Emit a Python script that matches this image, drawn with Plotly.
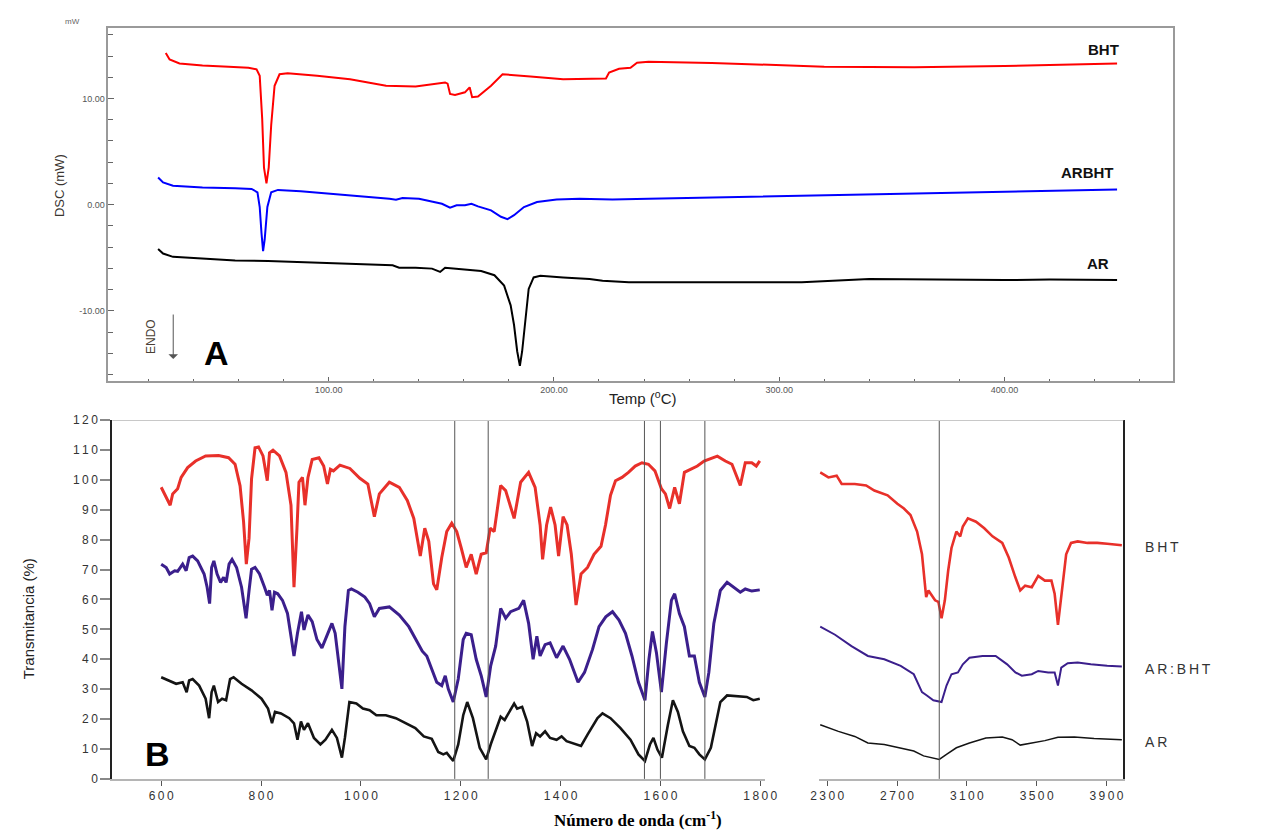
import plotly.graph_objects as go

W, H = 1268, 839

# ---------------- DSC data (A) ----------------
dsc_T_bht = [27.7, 29.4, 33.8, 44, 55.6, 64.4, 68, 69.4, 70.5, 71.3, 72.4, 73.4, 74.5, 76, 78.2, 81.8, 94.9,
             109.5, 125.5, 138.6, 151.7, 152.8, 153.9, 156.1, 160.5, 162.6, 163.7, 166.3, 172.1, 177.2, 189.6,
             204.1, 223.1, 224.5, 228.9, 234, 236.9, 242, 270, 300, 320, 360, 400, 430, 450]
dsc_bht = [14.29, 13.67, 13.3, 13.1, 12.99, 12.9, 12.74, 12.13, 8.1, 3.49, 2.0, 3.49, 7.5, 11.2, 12.28, 12.37, 12.13,
           11.82, 11.2, 11.14, 11.51, 11.4, 10.43, 10.34, 10.58, 11.05, 10.12, 10.18, 11.2, 12.28, 12.07,
           11.82, 11.88, 12.44, 12.8, 12.9, 13.36, 13.45, 13.35, 13.15, 13.0, 12.95, 13.05, 13.2, 13.3]

dsc_T_arbht = [24.3, 26.5, 30.9, 44, 58.5, 65.8, 68.4, 69.4, 70.2, 70.9, 71.6, 72.8, 74.5, 77.5, 87.6, 102.2,
               116.8, 127, 129.9, 132.8, 140.1, 145.9, 150.3, 153.9, 156.8, 160.5, 163.4, 166.3, 172.1, 176.5,
               179.4, 182.3, 186.7, 192.5, 201.2, 211.4, 226, 242, 300, 350, 395, 450]
dsc_arbht = [2.56, 2.1, 1.79, 1.63, 1.54, 1.48, 1.17, -0.22, -2.69, -4.38, -3.3, -0.22, 1.17, 1.39, 1.26, 1.02,
             0.77, 0.55, 0.46, 0.62, 0.55, 0.25, 0.09, -0.28, -0.06, -0.06, 0.09, -0.16, -0.53, -1.14,
             -1.36, -0.99, -0.22, 0.25, 0.49, 0.55, 0.49, 0.55, 0.8, 1.0, 1.17, 1.42]

dsc_T_ar = [24.3, 26.5, 30.9, 44, 58.5, 73.1, 87.6, 102.2, 116.8, 128.4, 131.3, 138.6, 145.9, 148.1, 149.5, 151.7,
            160.5, 167.7, 173.6, 177.9, 180.8, 182.3, 183.7, 184.9, 185.9, 187.4, 188.8, 191, 194, 204.1, 215.8,
            221.6, 233.3, 242, 260, 290, 310, 340, 370, 400, 420, 450]
dsc_ar = [-4.17, -4.6, -4.91, -5.09, -5.25, -5.31, -5.4, -5.52, -5.62, -5.71, -5.93, -5.93, -6.02, -6.24, -6.33,
          -5.93, -6.08, -6.24, -6.64, -7.62, -9.48, -11.33, -13.8, -15.18, -13.8, -10.71, -7.93, -6.85, -6.7,
          -6.85, -7, -7.16, -7.31, -7.31, -7.3, -7.35, -7.3, -7.0, -7.05, -7.1, -7.05, -7.1]

dsc_xticks = [100, 200, 300, 400]
dsc_xticktext = ["100.00", "200.00", "300.00", "400.00"]
dsc_yticks = [-10, 0, 10]
dsc_yticktext = ["-10.00", "0.00", "10.00"]

# ---------------- FTIR data (B) ----------------
ir_w_bht = [600, 618, 623, 633, 640, 653, 669, 689, 715, 735, 748, 758, 765, 770.5, 776, 781, 788, 795, 804, 812.5,
            817, 824, 837, 850, 860, 866, 872, 876, 883, 888, 894, 902.5, 916, 925.5, 933, 939, 945, 958, 978, 998,
            1014, 1027, 1037, 1057, 1077, 1093, 1106, 1119, 1128, 1136, 1145.5, 1152, 1162, 1172, 1182, 1192,
            1201, 1211, 1221, 1231, 1241, 1251, 1259, 1267, 1280, 1290, 1307, 1320, 1336, 1349, 1359, 1364,
            1372, 1380, 1389, 1396, 1405, 1413, 1421.5, 1431, 1441, 1454, 1467, 1481, 1490, 1500, 1510, 1523,
            1536, 1549.5, 1563, 1576, 1589, 1602, 1610, 1618.5, 1628.5, 1638, 1648, 1661, 1674, 1687.5, 1701,
            1714, 1730, 1743.3, 1760, 1770, 1783, 1792, 1799]
ir_bht = [97.5, 91.5, 95.3, 97, 100.8, 104.1, 106.3, 108, 108.1, 107.4, 105.2, 98, 86, 71.8, 80.5, 100.3, 110.7,
          111, 108, 99.7, 109, 109.9, 108, 102.5, 91.5, 64.1, 83.8, 99.2, 100.8, 91.5, 100.8, 106.8, 107.4, 104.6,
          98.6, 103.5, 103, 104.9, 103.8, 100.5, 98.6, 87.7, 95.3, 99.2, 97.5, 93.1, 87.1, 74.5, 83.8, 79.4, 65.2,
          63.2, 74, 82.7, 85.5, 82.7, 77.2, 70.7, 75.1, 68.5, 75.1, 75.6, 83.8, 82.7, 98.1, 96.4, 87.1, 99.2,
          102.5, 97.5, 84.9, 73.4, 84.9, 90.9, 84.9, 74.5, 87.7, 84.9, 75.1, 58.1, 68.5, 70.7, 75.1, 77.8, 84.9,
          94.8, 99.7, 100.8, 102.5, 104.6, 105.7, 105.2, 103, 97, 95.3, 90.4, 97.5, 92, 102.5, 103.5, 104.6,
          106.3, 107, 107.9, 106.3, 105.2, 98.1, 105.7, 105.7, 104.6, 106.3]

ir_w_arbht = [600, 610, 617, 627, 633, 643, 650, 656, 663, 673, 686, 692, 697, 701, 705.5, 712, 719, 725, 730, 736,
              742, 751, 761, 766.5, 770, 776, 781, 788, 797, 807, 812.5, 817, 822, 827, 833.5, 843, 853, 861,
              866, 873, 881, 886, 894, 902.5, 912, 922, 932, 942, 948.5, 955, 962, 968, 975, 981, 994, 1008,
              1017.5, 1027, 1037, 1057, 1077, 1096, 1113, 1123, 1132, 1145.5, 1152, 1162, 1169, 1175, 1185,
              1195, 1205, 1211, 1221, 1231, 1241, 1251, 1260, 1270, 1280, 1290, 1300, 1316.4, 1326, 1336, 1345,
              1352.5, 1359, 1369, 1379, 1392, 1405, 1418, 1435, 1448, 1464, 1477, 1490.5, 1504, 1517, 1530,
              1543, 1556, 1569, 1577, 1584, 1592, 1602, 1612, 1622, 1628.5, 1638, 1648, 1658, 1668, 1678, 1689,
              1697, 1707, 1720, 1733.5, 1747, 1760, 1770, 1783, 1799]
ir_arbht = [71.8, 70.7, 68.5, 69.6, 69.4, 71.8, 69.6, 74, 74.5, 72.9, 68.5, 64.1, 58.6, 70.7, 72.9, 68.5, 65.7,
            67.4, 65.7, 71.8, 73.4, 70.7, 64.1, 57.5, 53.7, 63, 70.1, 70.7, 68.5, 64.1, 61.4, 63, 56.4, 62.4,
            61.9, 59.7, 55.3, 46.6, 41.1, 48.7, 55.9, 49.8, 54.8, 52.6, 46.6, 43.8, 47.7, 52, 48.7, 40, 30.1,
            50.9, 63, 63.5, 62.4, 60.8, 58.6, 54.2, 57, 57.5, 54.8, 50.9, 45.5, 42.7, 41.1, 35, 32.3, 31.2, 34.5,
            30.1, 25.7, 33.4, 46.6, 48.7, 48.2, 40, 34.5, 27.4, 37.8, 44.4, 57, 53.7, 55.9, 57, 59.7, 52, 40,
            47.7, 41.1, 44.9, 45.5, 40.5, 44.4, 40, 32.3, 35.6, 43.3, 50.9, 54.2, 55.9, 53.1, 48.7, 41.1, 32.3,
            26.3, 40, 49.3, 42.2, 29, 45.5, 59.7, 61.9, 55.3, 50.9, 41.1, 41.1, 32.3, 27.4, 35.6, 52, 63, 65.7,
            64.1, 62.4, 63.5, 62.8, 63.2]

ir_w_ar = [600, 617, 630, 643, 651, 656, 663, 676, 689, 696, 701, 705.5, 714, 722, 730, 738, 745, 761, 781, 801,
           814, 822, 828, 840, 856.5, 866, 873, 880, 886, 894, 906, 919, 929, 942, 952, 962, 968, 977, 991, 1004,
           1017.5, 1031, 1050, 1070, 1090, 1109, 1126, 1142, 1155, 1165, 1172, 1185, 1195, 1205, 1213, 1224.4,
           1238, 1251, 1260, 1270, 1280, 1288, 1297, 1307, 1313, 1323, 1333, 1343, 1351, 1359, 1369, 1379, 1392,
           1402, 1412, 1425, 1441, 1454, 1464, 1474, 1484, 1500, 1520, 1540, 1556, 1569, 1579, 1586, 1594, 1603,
           1615, 1625, 1635, 1645, 1658, 1668, 1678, 1689, 1701, 1711, 1720, 1733.5, 1753, 1773, 1786, 1799]
ir_ar = [34, 32.9, 31.8, 32.3, 29, 32.9, 33.4, 31.2, 26.8, 20.3, 29, 31.2, 25.7, 26.8, 26.3, 33.4, 34, 31.8, 29.6,
         26.8, 23.5, 18.6, 22.4, 21.9, 20.3, 18.6, 13.1, 19.2, 16.4, 18.6, 13.7, 11.5, 13.1, 16.4, 13.7, 7.1, 13.7,
         25.7, 25.2, 23.5, 23, 21.3, 21.3, 20.3, 18.6, 17, 14.2, 13.4, 9, 8.2, 8.7, 6, 11.5, 21.3, 25.7, 20.3,
         10.4, 6.5, 11.5, 15.9, 20.8, 19.7, 22.4, 25.2, 23.5, 24.1, 19.2, 11, 15.3, 14.2, 15.9, 13.7, 13.1, 14.2,
         12.6, 12, 11, 14.8, 17.5, 20.3, 21.9, 20.3, 17, 13.1, 8.2, 6, 11.5, 13.7, 9.8, 7.1, 18.1, 26.3, 22.4,
         15.9, 11, 10.4, 8.2, 6.5, 10.4, 18.1, 25.7, 27.9, 27.7, 27.4, 26.3, 26.8]

ir_w_bht_hi = [2260, 2307, 2354, 2383, 2458, 2523, 2570, 2646, 2702, 2739.5, 2777, 2815, 2843, 2856, 2867, 2880,
               2899, 2918, 2937, 2955, 2974, 2993, 3012, 3040, 3062, 3077, 3106, 3152.6, 3200, 3247, 3303, 3340,
               3378, 3406, 3434, 3472, 3509, 3547, 3584.5, 3603, 3622, 3641, 3669, 3697, 3735, 3791, 3847, 3904,
               3988]
ir_bht_hi = [102.5, 100.8, 101.4, 98.6, 98.6, 98.1, 96.4, 94.8, 92, 90.4, 88.2, 82.7, 75.1, 66.3, 60.8, 63, 61.4,
             59.7, 59.2, 53.7, 59.7, 69.6, 77.2, 82.7, 81.1, 84.4, 87.1, 86, 83.8, 81.1, 78.9, 74, 67.4, 63, 64.6,
             64.1, 67.9, 66.3, 66.3, 61.9, 51.5, 61.9, 75.1, 78.9, 79.4, 78.9, 78.9, 78.6, 78.1]

ir_w_arbht_hi = [2260, 2345, 2439, 2533, 2627, 2721, 2796, 2843, 2871, 2908, 2955, 2983.5, 3012, 3049, 3077,
                 3115, 3190, 3265, 3331, 3378, 3415, 3472, 3509, 3566, 3603, 3622, 3641, 3678, 3735, 3810, 3904,
                 3988]
ir_arbht_hi = [50.9, 48.2, 44.4, 41.1, 40, 37.8, 35, 29, 27.9, 26.3, 25.7, 31.2, 35, 35.6, 38.3, 40.5, 41.1, 41.1,
               38.3, 35.6, 34.5, 35, 36.1, 35.6, 35.6, 31.2, 37.2, 38.7, 38.9, 38.3, 37.8, 37.6]

ir_w_ar_hi = [2260, 2364, 2458, 2533, 2627, 2721, 2796, 2852, 2899, 2942, 2983.5, 3040, 3115, 3209, 3303, 3359,
              3406, 3472, 3547, 3622, 3716, 3829, 3988]
ir_ar_hi = [18.1, 15.9, 14.2, 12, 11.5, 10.4, 9.3, 7.7, 7.1, 6.5, 8.2, 10.4, 12, 13.7, 14, 13.1, 11.3, 12, 12.8,
            13.9, 14, 13.5, 13.1]

ir_ref_lines_left = [1188, 1255, 1568, 1600, 1689]
ir_ref_lines_right = [2942]
ir_yticks = list(range(0, 121, 10))
ir_xticks_left = [600, 800, 1000, 1200, 1400, 1600, 1800]
ir_xticks_right = [2300, 2700, 3100, 3500, 3900]


def spaced(s):
    return "\u2009".join(list(s))


def px(x):
    return x / W


def py(y):
    return 1 - y / H


RED_DSC, BLUE_DSC = "#ff0000", "#0000ff"
RED_IR, PURPLE_IR, BLACK_IR = "#e8302a", "#3b1f8c", "#141414"

fig = go.Figure()

# DSC traces
fig.add_trace(go.Scatter(x=dsc_T_bht, y=dsc_bht, mode="lines", line=dict(color=RED_DSC, width=2),
                         xaxis="x", yaxis="y", showlegend=False))
fig.add_trace(go.Scatter(x=dsc_T_arbht, y=dsc_arbht, mode="lines", line=dict(color=BLUE_DSC, width=2),
                         xaxis="x", yaxis="y", showlegend=False))
fig.add_trace(go.Scatter(x=dsc_T_ar, y=dsc_ar, mode="lines", line=dict(color="#000000", width=2),
                         xaxis="x", yaxis="y", showlegend=False))

# FTIR left
fig.add_trace(go.Scatter(x=ir_w_bht, y=ir_bht, mode="lines", line=dict(color=RED_IR, width=3),
                         xaxis="x2", yaxis="y2", showlegend=False))
fig.add_trace(go.Scatter(x=ir_w_arbht, y=ir_arbht, mode="lines", line=dict(color=PURPLE_IR, width=3),
                         xaxis="x2", yaxis="y2", showlegend=False))
fig.add_trace(go.Scatter(x=ir_w_ar, y=ir_ar, mode="lines", line=dict(color=BLACK_IR, width=2.6),
                         xaxis="x2", yaxis="y2", showlegend=False))
# FTIR right
fig.add_trace(go.Scatter(x=ir_w_bht_hi, y=ir_bht_hi, mode="lines", line=dict(color=RED_IR, width=2.6),
                         xaxis="x3", yaxis="y3", showlegend=False))
fig.add_trace(go.Scatter(x=ir_w_arbht_hi, y=ir_arbht_hi, mode="lines", line=dict(color=PURPLE_IR, width=2),
                         xaxis="x3", yaxis="y3", showlegend=False))
fig.add_trace(go.Scatter(x=ir_w_ar_hi, y=ir_ar_hi, mode="lines", line=dict(color=BLACK_IR, width=1.5),
                         xaxis="x3", yaxis="y3", showlegend=False))

tickfont_dsc = dict(family="Liberation Sans, Arial, sans-serif", size=9, color="#555")
tickfont_ir = dict(family="Liberation Sans, Arial, sans-serif", size=12, color="#333")

fig.update_layout(
    width=W, height=H, autosize=False,
    margin=dict(l=0, r=0, t=0, b=0),
    paper_bgcolor="white", plot_bgcolor="white",
    xaxis=dict(domain=[px(101), px(1184)], range=[2.2, 475], anchor="y",
               showgrid=False, zeroline=False, showline=True, mirror=True, linecolor="#9a9a9a", linewidth=1.5,
               tickvals=dsc_xticks, ticktext=dsc_xticktext, ticks="inside", ticklen=4, tickcolor="#666",
               minor=dict(dtick=20, tick0=0, ticks="inside", ticklen=2, tickcolor="#666", showgrid=False),
               tickfont=tickfont_dsc),
    yaxis=dict(domain=[py(380), py(21)], range=[-16.57, 16.67], anchor="x",
               showgrid=False, zeroline=False, showline=True, mirror=True, linecolor="#9a9a9a", linewidth=1.5,
               tickvals=dsc_yticks, ticktext=dsc_yticktext, ticks="inside", ticklen=6, tickcolor="#666",
               minor=dict(dtick=2, tick0=0, ticks="inside", ticklen=5, tickcolor="#666", showgrid=False),
               tickfont=tickfont_dsc),
    xaxis2=dict(domain=[px(105), px(769)], range=[502, 1810], anchor="y2",
                showgrid=False, zeroline=False, showline=True, linecolor="#b5b5b5", linewidth=2,
                tickvals=ir_xticks_left, ticktext=[spaced(str(v)) for v in ir_xticks_left],
                ticks="outside", ticklen=5, tickcolor="#555", tickfont=tickfont_ir),
    yaxis2=dict(domain=[py(785), py(420)], range=[0, 120], anchor="x2",
                showgrid=False, zeroline=False, showline=True, linecolor="#222", linewidth=2,
                tickvals=ir_yticks, ticktext=[spaced(str(v)) for v in ir_yticks],
                ticks="outside", ticklen=10, tickcolor="#888", tickwidth=2, tickfont=tickfont_ir),
    xaxis3=dict(domain=[px(824), px(1133)], range=[2255, 3996], anchor="y3",
                showgrid=False, zeroline=False, showline=True, linecolor="#b5b5b5", linewidth=2,
                tickvals=ir_xticks_right, ticktext=[spaced(str(v)) for v in ir_xticks_right],
                ticks="outside", ticklen=5, tickcolor="#555", tickfont=tickfont_ir),
    yaxis3=dict(domain=[py(785), py(420)], range=[0, 120], anchor="x3", side="right",
                showgrid=False, zeroline=False, showline=True, linecolor="#222", linewidth=2,
                showticklabels=False, ticks=""),
)

shapes = []
for w in ir_ref_lines_left:
    shapes.append(dict(type="line", xref="x2", yref="y2", x0=w, x1=w, y0=0, y1=120,
                       line=dict(color="#555", width=1)))
for w in ir_ref_lines_right:
    shapes.append(dict(type="line", xref="x3", yref="y3", x0=w, x1=w, y0=0, y1=120,
                       line=dict(color="#555", width=1)))
# top frame line of panel B
shapes.append(dict(type="line", xref="paper", yref="y2", x0=px(105), x1=px(1133), y0=120, y1=120,
                   line=dict(color="#c8c8c8", width=2)))
fig.update_layout(shapes=shapes)

ann = []


def note(x, y, text, font, xanchor="center", **kw):
    ann.append(dict(x=px(x), y=py(y), xref="paper", yref="paper", text=text, showarrow=False,
                    xanchor=xanchor, yanchor="middle", font=font, **kw))


lab = dict(family="Liberation Sans, Arial, sans-serif", size=15, color="#111")
# DSC labels
note(1113, 43, "<b>BHT</b>", lab)
note(1097, 168, "<b>ARBHT</b>", lab)
note(1107, 261, "<b>AR</b>", lab)
note(65, 15, "mW", dict(family="Liberation Sans, Arial", size=8, color="#666"))
note(52, 182, "DSC (mW)", dict(family="Liberation Sans, Arial", size=13, color="#3a3530"), textangle=-90)
note(645, 397, "Temp (<sup>o</sup>C)", dict(family="Liberation Sans, Arial", size=15, color="#222"))
note(145, 335, "ENDO", dict(family="Liberation Sans, Arial", size=12, color="#4a3f35"), textangle=-90)
ann.append(dict(x=px(167), y=py(358), xref="paper", yref="paper", text="", showarrow=True, ax=0, ay=-46,
                arrowhead=1, arrowsize=1.6, arrowwidth=1, arrowcolor="#555"))
note(211, 352, "<b>A</b>", dict(family="Liberation Sans, Arial", size=34, color="#000"))
# FTIR labels
lab_ir = dict(family="Liberation Sans, Arial, sans-serif", size=14, color="#333")
note(1153, 549, spaced("BHT"), lab_ir, xanchor="left")
note(1153, 673, spaced("AR:BHT"), lab_ir, xanchor="left")
note(1153, 747, spaced("AR"), lab_ir, xanchor="left")
note(151, 760, "<b>B</b>", dict(family="Liberation Sans, Arial", size=34, color="#000"))
note(20, 622, "Transmitancia (%)",
     dict(family="Liberation Sans Narrow, Arial Narrow, Liberation Sans, sans-serif", size=15, color="#222"),
     textangle=-90)
note(640, 826, "<b>Número de onda (cm<sup>-1</sup>)</b>",
     dict(family="Liberation Serif, Times New Roman, serif", size=17, color="#000"))
fig.update_layout(annotations=ann)

fig.write_html("out.html")
